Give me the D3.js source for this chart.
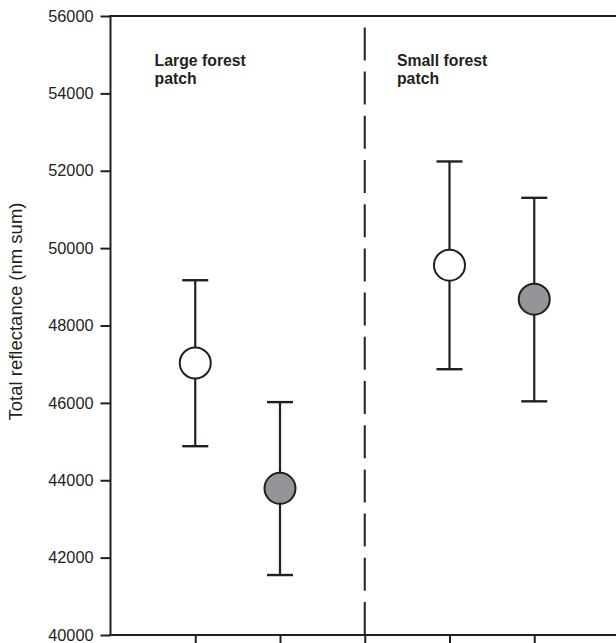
<!DOCTYPE html>
<html>
<head>
<meta charset="utf-8">
<script src="https://cdn.jsdelivr.net/npm/d3@7"></script>
<style>
  html, body { margin: 0; padding: 0; background: #fff; }
  svg { display: block; }
</style>
</head>
<body>
<svg id="chart" width="616" height="643"></svg>
<script>
// ---- Data ----
const groups = ["Large forest patch", "Small forest patch"];
const xPositions = [1, 2, 4, 5];
const seriesType = ["open", "filled", "open", "filled"];
const means = [47030, 43790, 49560, 48680];
const upper = [49170, 46020, 52240, 51300];
const lower = [44880, 41550, 46870, 46040];
const yTicks = [40000, 42000, 44000, 46000, 48000, 50000, 52000, 54000, 56000];
const xTicks = [1, 2, 3, 4, 5];
const dividerX = 3;
const yLabel = "Total reflectance (nm sum)";
const annotations = [
  { lines: ["Large forest", "patch"], x: 0.52 },
  { lines: ["Small forest", "patch"], x: 3.38 }
];

// ---- Layout ----
const ink = "#231f20";
const grey = "#939598";
const svg = d3.select("#chart");
const x = d3.scaleLinear().domain([0, 6]).range([110.5, 619]);
const y = d3.scaleLinear().domain([40000, 56000]).range([635, 16]);

// Y axis
const yAxis = d3.axisLeft(y).tickValues(yTicks).tickSize(10).tickPadding(7).tickFormat(d3.format("d"));
const gy = svg.append("g").attr("transform", `translate(${x(0)},0)`).call(yAxis);
gy.select(".domain").remove();
gy.selectAll(".tick line").attr("stroke", ink).attr("stroke-width", 2);
gy.selectAll(".tick text").attr("fill", ink).style("font-family", "Liberation Sans, Arial, sans-serif").style("font-size", "16.3px");

// X axis (ticks only, below)
const xAxis = d3.axisBottom(x).tickValues(xTicks).tickSize(8).tickFormat("");
const gx = svg.append("g").attr("transform", `translate(0,${y(40000)})`).call(xAxis);
gx.select(".domain").remove();
gx.selectAll(".tick line").attr("stroke", ink).attr("stroke-width", 2);

// Frame lines: left, bottom, top
svg.append("line").attr("x1", x(0)).attr("x2", x(0)).attr("y1", y(40000) + 1).attr("y2", y(56000) - 1)
  .attr("stroke", ink).attr("stroke-width", 2);
svg.append("line").attr("x1", x(0) - 1).attr("x2", x(6)).attr("y1", y(40000)).attr("y2", y(40000))
  .attr("stroke", ink).attr("stroke-width", 2);
svg.append("line").attr("x1", x(0) - 1).attr("x2", x(6)).attr("y1", y(56000)).attr("y2", y(56000))
  .attr("stroke", ink).attr("stroke-width", 2);

// Dashed divider
svg.append("line").attr("x1", x(dividerX)).attr("x2", x(dividerX))
  .attr("y1", y(40000)).attr("y2", y(56000))
  .attr("stroke", ink).attr("stroke-width", 2).attr("stroke-dasharray", "33,11.2");

// Y label
svg.append("text")
  .attr("transform", `translate(22,${(y(40000) + y(56000)) / 2 - 14}) rotate(-90)`)
  .attr("text-anchor", "middle")
  .attr("fill", ink)
  .style("font-family", "Liberation Sans, Arial, sans-serif")
  .style("font-size", "18.5px")
  .text(yLabel);

// Annotations
annotations.forEach(a => {
  const t = svg.append("text")
    .attr("x", x(a.x)).attr("y", 66)
    .attr("fill", ink)
    .style("font-family", "Liberation Sans, Arial, sans-serif")
    .style("font-size", "15.8px")
    .style("font-weight", "bold");
  a.lines.forEach((l, i) => {
    t.append("tspan").attr("x", x(a.x)).attr("dy", i === 0 ? 0 : 17.5).text(l);
  });
});

// Error bars
const data = xPositions.map((p, i) => ({ p, m: means[i], hi: upper[i], lo: lower[i], type: seriesType[i] }));
const capHalf = 13;
const g = svg.append("g");
data.forEach(d => {
  g.append("line").attr("x1", x(d.p)).attr("x2", x(d.p)).attr("y1", y(d.hi)).attr("y2", y(d.lo))
    .attr("stroke", ink).attr("stroke-width", 2.2);
  [d.hi, d.lo].forEach(v => {
    g.append("line").attr("x1", x(d.p) - capHalf).attr("x2", x(d.p) + capHalf)
      .attr("y1", y(v)).attr("y2", y(v)).attr("stroke", ink).attr("stroke-width", 2.4);
  });
  g.append("circle").attr("cx", x(d.p)).attr("cy", y(d.m)).attr("r", 15.5)
    .attr("fill", d.type === "open" ? "#fff" : grey)
    .attr("stroke", ink).attr("stroke-width", 2);
});
</script>
</body>
</html>
